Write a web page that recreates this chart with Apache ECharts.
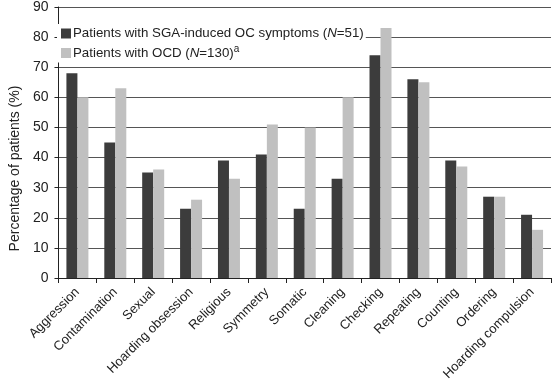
<!DOCTYPE html>
<html><head><meta charset="utf-8">
<script src="https://cdn.jsdelivr.net/npm/echarts@6/dist/echarts.min.js"></script>
<style>html,body{margin:0;padding:0;background:#fff}#c{width:553px;height:390px}</style>
</head><body><div id="c"></div>
<script>
const categories = ['Aggression','Contamination','Sexual','Hoarding obsession','Religious','Symmetry','Somatic','Cleaning','Checking','Repeating','Counting','Ordering','Hoarding compulsion'];
const sgaValues = [68,45,35,23,39,41,23,33,74,66,39,27,21];
const ocdValues = [60,63,36,26,33,51,50,60,83,65,37,27,16];
const seriesNames = ['Patients with SGA-induced OC symptoms (N=51)','Patients with OCD (N=130)a'];
const yTicks = [0,10,20,30,40,50,60,70,80,90];

const chart = echarts.init(document.getElementById('c'));
const F = 'Liberation Sans, Arial, sans-serif';
const FS = 13.3;
chart.setOption({
  animation:false,
  textStyle:{fontFamily:F},
  grid:{left:45,right:2,top:7,bottom:112,containLabel:false},
  legend:{
    orient:'vertical', left:57, top:24, itemWidth:10, itemHeight:10, itemGap:4,
    backgroundColor:'#fff', padding:[3,2,3,4], icon:'rect',
    data:seriesNames,
    textStyle:{fontSize:FS,color:'#222',fontFamily:F,padding:[0,0,0,-3],
      rich:{n:{fontSize:FS,fontStyle:'italic',fontFamily:F,color:'#222'},
            t:{fontSize:FS,fontFamily:F,color:'#222'},
            s:{fontSize:10,fontFamily:F,color:'#222',padding:[0,0,8,0]}}},
    formatter:function(name){
      if(name===seriesNames[0]) return '{t|Patients with SGA-induced OC symptoms (}{n|N}{t|=51)}';
      return '{t|Patients with OCD (}{n|N}{t|=130)}{s|a}';
    }
  },
  xAxis:{type:'category',data:categories,
    axisLine:{lineStyle:{color:'#222',width:1}},
    axisTick:{show:true,length:5,lineStyle:{color:'#222'}},
    axisLabel:{rotate:45,fontSize:13,color:'#222',interval:0,margin:12,fontFamily:F}},
  yAxis:{type:'value',min:0,max:90,interval:10,
    name:'Percentage of patients (%)',nameLocation:'middle',nameGap:36,
    nameTextStyle:{fontSize:14,color:'#222',fontFamily:F,padding:[0,52,0,0]},
    axisLine:{show:true,lineStyle:{color:'#222'}},
    axisTick:{show:true,length:4,lineStyle:{color:'#222'}},
    axisLabel:{fontSize:14,color:'#222',margin:10,fontFamily:F,
      formatter:function(v){return yTicks.indexOf(v)>=0?String(v):'';}},
    splitLine:{show:true,lineStyle:{color:'#555',width:1}}},
  series:[
    {name:seriesNames[0],type:'bar',data:sgaValues,barWidth:11,barGap:'0%',itemStyle:{color:'#3c3c3c'}},
    {name:seriesNames[1],type:'bar',data:ocdValues,barWidth:11,barGap:'0%',itemStyle:{color:'#c0c0c0'}}
  ]
});
</script></body></html>
